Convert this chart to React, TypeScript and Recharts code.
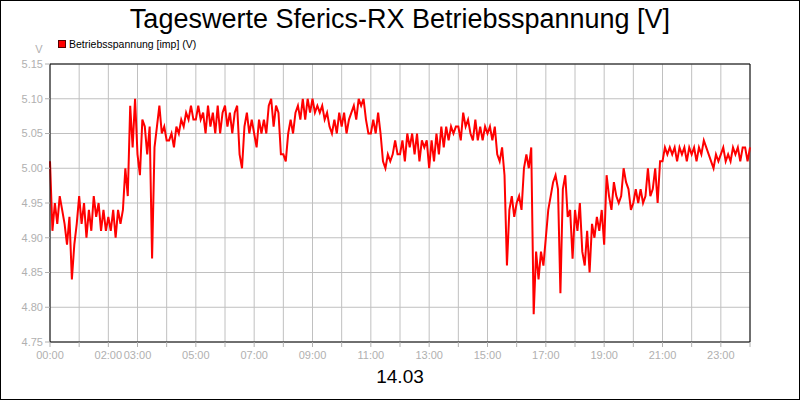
import React from 'react';
import { LineChart, Line, XAxis, YAxis, CartesianGrid, ReferenceLine } from 'recharts';

// 5-minute readings, 00:00 - 05:55
const night = [
  5.01, 4.91, 4.95, 4.92, 4.96, 4.94, 4.92, 4.89, 4.93, 4.84, 4.89, 4.92,
  4.96, 4.92, 4.95, 4.90, 4.94, 4.91, 4.96, 4.93, 4.95, 4.91, 4.94, 4.91,
  4.93, 4.91, 4.94, 4.90, 4.94, 4.92, 4.94, 5.00, 4.96, 5.09, 5.03, 5.10,
  5.02, 4.99, 5.07, 5.06, 5.02, 5.06, 4.87, 5.03, 5.06, 5.09, 5.05, 5.06,
  5.04, 5.04, 5.05, 5.03, 5.06, 5.05, 5.07, 5.06, 5.08, 5.07, 5.09, 5.07,
  5.07, 5.09, 5.07, 5.08, 5.05, 5.09, 5.06, 5.08, 5.05, 5.09, 5.05, 5.08,
];

// 06:00 - 11:55
const morning = [
  5.09, 5.06, 5.08, 5.05, 5.08, 5.09, 5.02, 5.00, 5.06, 5.08, 5.05, 5.07,
  5.05, 5.03, 5.07, 5.05, 5.07, 5.05, 5.09, 5.10, 5.06, 5.09, 5.08, 5.02,
  5.02, 5.01, 5.05, 5.07, 5.05, 5.08, 5.09, 5.07, 5.10, 5.07, 5.10, 5.08,
  5.10, 5.08, 5.09, 5.08, 5.09, 5.07, 5.08, 5.06, 5.05, 5.07, 5.05, 5.08,
  5.06, 5.08, 5.05, 5.07, 5.08, 5.09, 5.07, 5.10, 5.09, 5.10, 5.07, 5.05,
  5.05, 5.07, 5.05, 5.08, 5.05, 5.01, 5.00, 5.02, 5.01, 5.02, 5.04, 5.02,
];

// 12:00 - 17:55
const afternoon = [
  5.02, 5.04, 5.01, 5.05, 5.03, 5.05, 5.02, 5.05, 5.01, 5.04, 5.03, 5.04,
  5.00, 5.04, 5.01, 5.05, 5.02, 5.06, 5.03, 5.06, 5.04, 5.06, 5.05, 5.06,
  5.06, 5.04, 5.08, 5.06, 5.07, 5.05, 5.04, 5.07, 5.04, 5.06, 5.04, 5.06,
  5.05, 5.06, 5.04, 5.06, 5.02, 5.01, 5.03, 4.99, 4.86, 4.94, 4.96, 4.93,
  4.95, 4.96, 4.94, 5.00, 5.02, 5.00, 5.03, 4.79, 4.88, 4.84, 4.88, 4.86,
  4.90, 4.94, 4.96, 4.98, 4.99, 4.97, 4.82, 4.97, 4.99, 4.93, 4.94, 4.87,
];

// 18:00 - 24:00
const evening = [
  4.94, 4.91, 4.95, 4.88, 4.86, 4.91, 4.85, 4.92, 4.90, 4.93, 4.91, 4.94,
  4.89, 4.99, 4.96, 4.94, 4.98, 4.96, 4.95, 4.96, 5.00, 4.98, 4.97, 4.94,
  4.95, 4.97, 4.95, 4.97, 4.95, 4.96, 5.00, 4.96, 4.97, 5.00, 4.95, 5.01,
  5.01, 5.03, 5.02, 5.03, 5.02, 5.03, 5.01, 5.03, 5.02, 5.03, 5.01, 5.03,
  5.02, 5.03, 5.01, 5.03, 5.02, 5.04, 5.03, 5.02, 5.01, 5.00, 5.02, 5.01,
  5.02, 5.03, 5.01, 5.02, 5.01, 5.03, 5.02, 5.03, 5.01, 5.03, 5.03, 5.01,
  5.03,
];

const stepMinutes = 5;

const hourTicks = [0, 1, 2, 3, 4, 5, 6, 7, 8, 9, 10, 11, 12, 13, 14, 15, 16, 17, 18, 19, 20, 21, 22, 23, 24];
const hourLabels: Record<number, string> = {
  0: '00:00', 2: '02:00', 3: '03:00', 5: '05:00', 7: '07:00', 9: '09:00',
  11: '11:00', 13: '13:00', 15: '15:00', 17: '17:00', 19: '19:00', 21: '21:00', 23: '23:00',
};
const voltTicks = [4.75, 4.8, 4.85, 4.9, 4.95, 5.0, 5.05, 5.1, 5.15];

const data = [...night, ...morning, ...afternoon, ...evening].map((v, i) => ({
  t: (i * stepMinutes) / 60,
  v,
}));

const FONT = '"Liberation Sans", Arial, sans-serif';
const GREY = '#b0b0b0';

export default function App() {
  return (
    <div style={{ position: 'absolute', left: 0, top: 0, width: 800, height: 400, background: '#fff', fontFamily: FONT }}>
      <LineChart width={800} height={400} data={data} margin={{ top: 64, right: 50, bottom: 0, left: 0 }}>
        <CartesianGrid stroke="#c0c0c0" />
        <XAxis
          dataKey="t"
          type="number"
          domain={[0, 24]}
          ticks={hourTicks}
          interval={0}
          height={58}
          tickSize={5}
          tickMargin={4}
          tickFormatter={(h: number) => hourLabels[h] ?? ''}
          tick={{ fill: GREY, fontSize: 11, fontFamily: FONT }}
          tickLine={{ stroke: GREY }}
          axisLine={{ stroke: '#000' }}
        />
        <YAxis
          type="number"
          domain={[4.75, 5.15]}
          ticks={voltTicks}
          interval={0}
          width={50}
          tickSize={5}
          tickMargin={2}
          allowDataOverflow
          tickFormatter={(v: number) => v.toFixed(2)}
          tick={{ fill: GREY, fontSize: 11, fontFamily: FONT }}
          tickLine={{ stroke: GREY }}
          axisLine={{ stroke: '#000' }}
        />
        <ReferenceLine y={5.15} stroke="#000" />
        <ReferenceLine x={24} stroke="#000" />
        <Line
          type="linear"
          dataKey="v"
          stroke="#ff0000"
          strokeWidth={2}
          dot={false}
          isAnimationActive={false}
        />
      </LineChart>
      <svg width={800} height={400} style={{ position: 'absolute', left: 0, top: 0, pointerEvents: 'none' }}>
        <rect x={0.5} y={0.5} width={799} height={399} fill="none" stroke="#000" />
        <text x={400} y={27.5} textAnchor="middle" fontSize={27} fontFamily={FONT} fill="#000">
          Tageswerte Sferics-RX Betriebsspannung [V]
        </text>
        <rect x={58.5} y={40.5} width={7} height={7} fill="#ff0000" stroke="#500" />
        <text x={69} y={48} fontSize={10.5} fontFamily={FONT} fill="#000">
          Betriebsspannung [imp] (V)
        </text>
        <text x={39} y={52.5} textAnchor="middle" fontSize={11} fontFamily={FONT} fill={GREY}>
          V
        </text>
        <text x={400} y={383} textAnchor="middle" fontSize={19} fontFamily={FONT} fill="#000">
          14.03
        </text>
      </svg>
    </div>
  );
}
